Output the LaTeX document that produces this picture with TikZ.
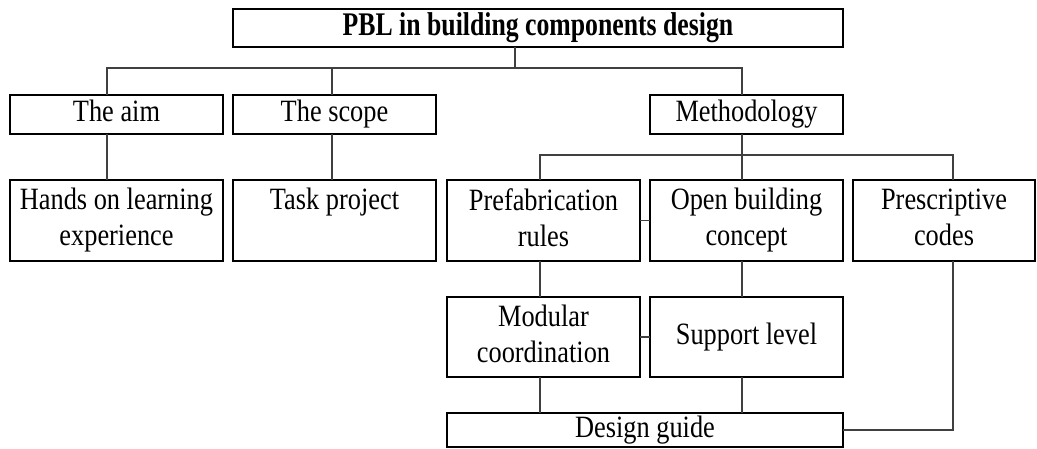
\documentclass[tikz,border=0pt]{standalone}
\usepackage{fontspec}
\setmainfont{Liberation Serif}
\newfontfamily\boxfont[FakeStretch=0.85]{Liberation Serif}
\newfontfamily\headfont[FakeStretch=0.78]{Liberation Serif}
\usepackage{tikz}
\usetikzlibrary{positioning}

\begin{document}
\begin{tikzpicture}[x=1pt, y=-1pt,
    box/.style={draw, line width=2.4pt, inner sep=0pt, outer sep=0pt, align=center,
      font=\boxfont\fontsize{31}{36}\selectfont,
      execute at begin node={\vphantom{Tp}}, execute at end node={\vphantom{p}}},
    link/.style={line width=1.2pt, black!75}]
    \useasboundingbox (0, 0) rectangle (1037, 449);

    \node[box, minimum width=610, minimum height=38, font=\headfont\fontsize{33}{36}\selectfont\bfseries] (title) at (538, 28) {PBL in building components design};

    \node[box, minimum width=213, minimum height=39] (aim) at (116.5, 114.5) {The aim};
    \node[box, minimum width=203, minimum height=39] (scope) at (334.5, 114.5) {The scope};
    \node[box, minimum width=193, minimum height=39] (method) at (746.5, 114.5) {Methodology};

    \node[box, minimum width=213, minimum height=81] (hands) at (116.5, 220.5) {Hands on learning\\experience};
    \node[box, minimum width=203, minimum height=81] (task) at (334.5, 220.5) {Task project\\};
    \node[box, minimum width=193, minimum height=81] (prefab) at (543.5, 220.5) {Prefabrication\\rules};
    \node[box, minimum width=193, minimum height=81] (open) at (746.5, 220.5) {Open building\\concept};
    \node[box, minimum width=182, minimum height=81] (presc) at (944, 220.5) {Prescriptive\\codes};

    \node[box, minimum width=193, minimum height=80] (modular) at (543.5, 337) {Modular\\coordination};
    \node[box, minimum width=193, minimum height=80] (support) at (746.5, 337) {Support level};

    \node[box, minimum width=396, minimum height=34] (guide) at (645, 430) {Design guide};

    \draw[link] ([xshift=-23pt]title.south) -- ++(0, 21);
    \draw[link] ([xshift=-9.5pt]aim.north) -- ++(0, -27) -| ([xshift=-4.5pt]method.north);
    \draw[link] ([xshift=-2.5pt]scope.north) -- ++(0, -27);

    \draw[link] ([xshift=-9.5pt]aim.south) -- ([xshift=-9.5pt]hands.north);
    \draw[link] ([xshift=-2.5pt]scope.south) -- ([xshift=-2.5pt]task.north);

    \draw[link] ([xshift=-4.5pt]method.south) -- ([xshift=-4.5pt]open.north);
    \draw[link] ([xshift=-3.5pt]prefab.north) -- ++(0, -25) -| ([xshift=9pt]presc.north);
    \draw[link] (prefab.east) -- (open.west);

    \draw[link] ([xshift=-3.5pt]prefab.south) -- ([xshift=-3.5pt]modular.north);
    \draw[link] ([xshift=-4.5pt]open.south) -- ([xshift=-4.5pt]support.north);
    \draw[link] (modular.east) -- (support.west);

    \draw[link] ([xshift=-3.5pt]modular.south) -- ++(0, 36);
    \draw[link] ([xshift=-4.5pt]support.south) -- ++(0, 36);
    \draw[link] ([xshift=9pt]presc.south) |- (guide.east);

  \end{tikzpicture}
\end{document}
